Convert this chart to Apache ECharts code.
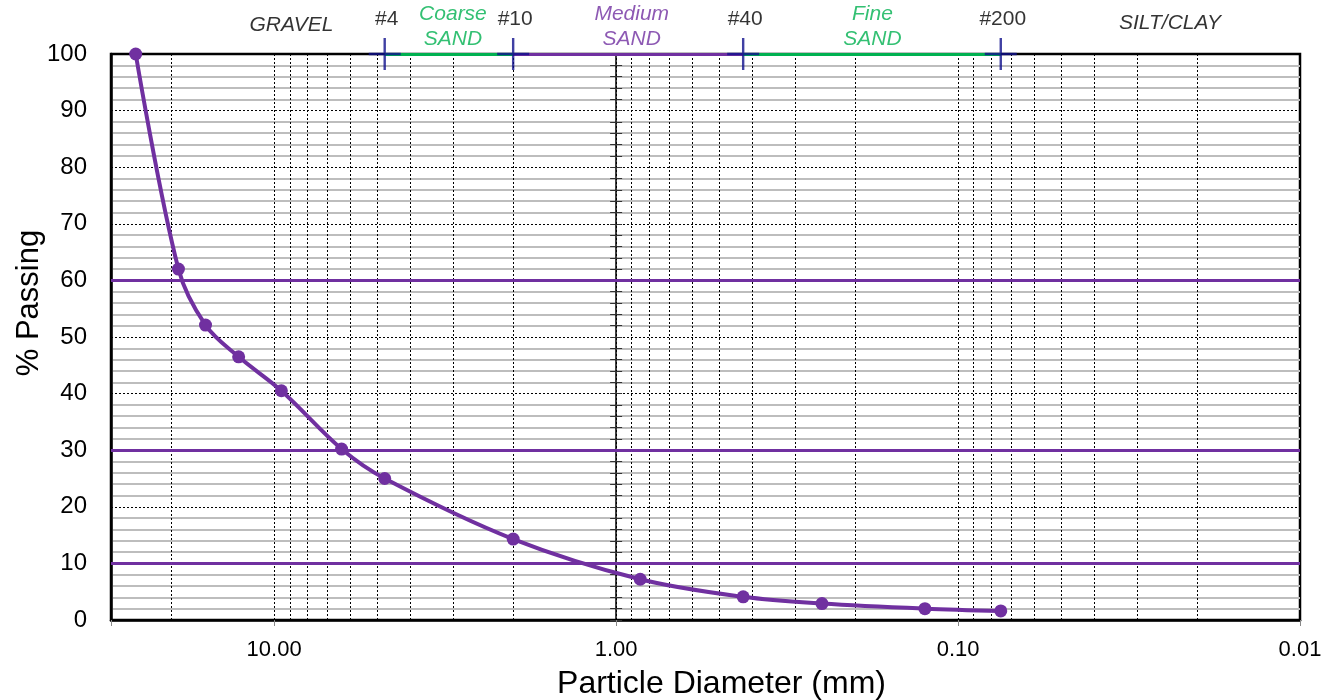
<!DOCTYPE html>
<html>
<head>
<meta charset="utf-8">
<title>Grain Size Distribution</title>
<script src="https://cdn.jsdelivr.net/npm/echarts@6/dist/echarts.min.js"></script>
<style>
  html, body { margin: 0; padding: 0; background: #fff; }
  #chart { width: 1338px; height: 700px; }
</style>
</head>
<body>
<div id="chart"></div>
<script>
// sample gradation (sieve opening in mm, % passing)
var sizes = [25.4, 19.05, 15.875, 12.7, 9.525, 6.35, 4.75, 2.0, 0.85, 0.425, 0.25, 0.125, 0.075];
var passing = [100, 62.0, 52.1, 46.5, 40.5, 30.2, 25.0, 14.3, 7.2, 4.1, 2.9, 2.0, 1.6];

// boundary sieves on top of the chart
var sieveNames = ['#4', '#10', '#40', '#200'];
var sieveSizes = [4.75, 2.0, 0.425, 0.075];

// soil zone names, placed between the sieves
var zoneNames = ['GRAVEL', 'Coarse\nSAND', 'Medium\nSAND', 'Fine\nSAND', 'SILT/CLAY'];
var zoneCenters = [8.9, 3.0, 0.9, 0.178, 0.024];

// reference lines D10 / D30 / D60
var refPassing = [10, 30, 60];

// log grid lines between the decades
var minorGrid = [20, 9, 8, 7, 6, 5, 4, 3, 2,
  0.9, 0.8, 0.7, 0.6, 0.5, 0.4, 0.3, 0.2,
  0.09, 0.08, 0.07, 0.06, 0.05, 0.04, 0.03, 0.02];

var xMin = 0.01, xMax = 30;

var PURPLE = '#7030a0';
var GREEN = '#00b050';
var NAVY = '#10108c';
var FONT = '"Liberation Sans", Arial, sans-serif';

var zoneColors = ['#000', GREEN, PURPLE, GREEN, '#000'];
var zoneOffsets = [-29, -27, -27, -27, -31];

var chart = echarts.init(document.getElementById('chart'));

var option = {
  animation: false,
  textStyle: { fontFamily: FONT, color: '#000' },
  grid: {
    left: 111, right: 38, top: 54, bottom: 80,
    containLabel: false,
    outerBoundsMode: 'none',
    show: true, borderColor: '#000', borderWidth: 2.5, backgroundColor: 'transparent',
  },
  xAxis: {
    type: 'log',
    logBase: 10,
    min: xMin,
    max: xMax,
    inverse: true,
    name: 'Particle Diameter (mm)',
    nameLocation: 'middle',
    nameGap: 48,
    nameMoveOverlap: false,
    nameTextStyle: { fontSize: 32, color: '#000', padding: [0, 0, 0, 32] },
    axisLine: { lineStyle: { color: '#000', width: 2.5 } },
    axisTick: { show: true, length: 6, lineStyle: { color: '#888' } },
    axisLabel: {
      fontSize: 22, color: '#000', margin: 19, hideOverlap: false,
      formatter: function (v) {
        var l = Math.log10(v);
        return Math.abs(l - Math.round(l)) < 1e-6 ? v.toFixed(2) : '';
      },
    },
    splitLine: { show: true, lineStyle: { color: '#000', type: [2, 2], width: 1 } },
  },
  yAxis: [{
    type: 'value',
    min: 0,
    max: 100,
    interval: 10,
    name: '% Passing',
    nameLocation: 'middle',
    nameGap: 66,
    nameMoveOverlap: false,
    nameRotate: 90,
    nameTextStyle: { fontSize: 31, color: '#000', padding: [0, 0, 0, 68] },
    axisLine: { lineStyle: { color: '#000', width: 2.5 } },
    axisTick: { show: false },
    axisLabel: { fontSize: 24, color: '#000', margin: 24 },
    splitLine: { show: true, lineStyle: { color: '#000', type: [2, 2], width: 1 } },
    minorTick: { show: false, splitNumber: 5 },
    minorSplitLine: { show: true, lineStyle: { color: '#bdbdbd', width: 2 } },
  }, {
    // vertical axis crossing at 1.00 mm (outer ticks)
    type: 'value', min: 0, max: 100, interval: 2, position: 'left', offset: 0,
    axisLine: { show: true, lineStyle: { color: '#000', width: 1.5 } },
    axisTick: { show: true, length: 6, inside: false, lineStyle: { color: '#333' } },
    axisLabel: { show: false },
    splitLine: { show: false },
  }, {
    // same axis, inner ticks
    type: 'value', min: 0, max: 100, interval: 2, position: 'left', offset: 0,
    axisLine: { show: false },
    axisTick: { show: true, length: 6, inside: true, lineStyle: { color: '#333' } },
    axisLabel: { show: false },
    splitLine: { show: false },
  }],
  series: [
    {
      // minor log grid + reference lines
      type: 'line',
      data: [],
      silent: true,
      markLine: {
        symbol: 'none',
        silent: true,
        label: { show: false },
        data: minorGrid.map(function (v) {
          return { xAxis: v, lineStyle: { color: '#000', type: [2, 2], width: 1 } };
        }).concat(refPassing.map(function (v) {
          return { yAxis: v, lineStyle: { color: PURPLE, type: 'solid', width: 3 } };
        })),
      },
    },
    {
      // top band: coarse sand / medium sand / fine sand
      type: 'line',
      data: [],
      silent: true,
      markLine: {
        symbol: 'none',
        silent: true,
        label: { show: false },
        data: [
          [{ coord: [sieveSizes[0], 100], lineStyle: { color: GREEN, width: 3, type: 'solid' } }, { coord: [sieveSizes[1], 100] }],
          [{ coord: [sieveSizes[1], 100], lineStyle: { color: PURPLE, width: 3, type: 'solid' } }, { coord: [sieveSizes[2], 100] }],
          [{ coord: [sieveSizes[2], 100], lineStyle: { color: GREEN, width: 3, type: 'solid' } }, { coord: [sieveSizes[3], 100] }],
        ],
      },
    },
    {
      name: 'Gradation',
      type: 'line',
      smooth: 0.35,
      clip: false,
      z: 5,
      data: sizes.map(function (s, i) { return [s, passing[i]]; }),
      symbol: 'circle',
      symbolSize: 13,
      itemStyle: { color: PURPLE },
      lineStyle: { color: PURPLE, width: 4 },
    },
    {
      // sieve crosses
      type: 'scatter',
      clip: false,
      z: 6,
      silent: true,
      data: sieveSizes.map(function (s, i) { return { value: [s, 100], name: sieveNames[i] }; }),
      symbol: 'path://M-1.2,-16H1.2V16H-1.2Z M-16,-1.2H16V1.2H-16Z',
      symbolSize: [32, 32],
      itemStyle: { color: NAVY },
      label: {
        show: true, position: 'inside', offset: [2, -35],
        formatter: '{b}', fontSize: 21, color: '#000', fontFamily: FONT,
      },
    },
    {
      // zone names
      type: 'scatter',
      clip: false,
      silent: true,
      symbolSize: 0,
      data: zoneCenters.map(function (s, i) {
        return {
          value: [s, 100],
          name: zoneNames[i],
          label: { color: zoneColors[i], offset: [0, zoneOffsets[i]] },
        };
      }),
      label: {
        show: true, position: 'inside', formatter: '{b}',
        fontSize: 21, fontStyle: 'italic', lineHeight: 25, fontFamily: FONT,
      },
    },
  ],
};

chart.setOption(option);

// move the secondary vertical axis to x = 1.00 mm (distance from the left edge, which is xMax)
var off = -(chart.convertToPixel({ xAxisIndex: 0 }, 1) - chart.convertToPixel({ xAxisIndex: 0 }, xMax));
chart.setOption({ yAxis: [{}, { offset: off }, { offset: off }] });
</script>
</body>
</html>
